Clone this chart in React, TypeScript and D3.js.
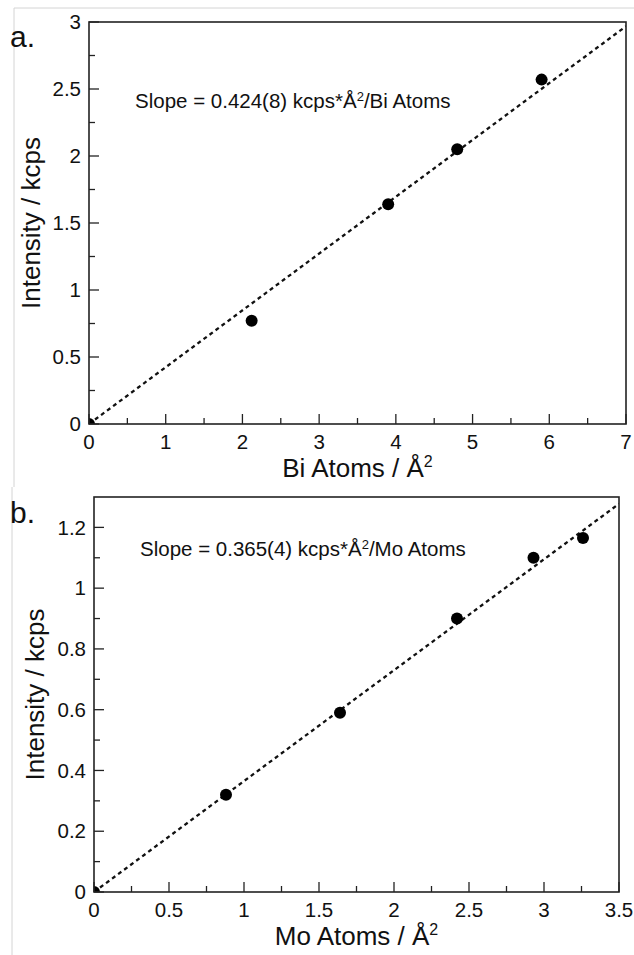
import React from "react";
import * as d3 from "d3";

// panel a: Bi
const biAtoms = [0, 2.12, 3.9, 4.8, 5.9];
const biIntensity = [0, 0.77, 1.64, 2.05, 2.57];
const biSlope = 0.424;
const biXTicks = [0, 1, 2, 3, 4, 5, 6, 7];
const biYTicks = [0, 0.5, 1, 1.5, 2, 2.5, 3];

// panel b: Mo
const moAtoms = [0, 0.88, 1.64, 2.42, 2.93, 3.26];
const moIntensity = [0, 0.32, 0.59, 0.9, 1.1, 1.165];
const moSlope = 0.365;
const moXTicks = [0, 0.5, 1, 1.5, 2, 2.5, 3, 3.5];
const moYTicks = [0, 0.2, 0.4, 0.6, 0.8, 1, 1.2];

const FONT = "'Liberation Sans', Arial, Helvetica, sans-serif";
const INK = "#222";

type PanelProps = {
  id: string;
  letter: string;
  left: number;
  right: number;
  top: number;
  bottom: number;
  xs: number[];
  ys: number[];
  slope: number;
  xMax: number;
  yMax: number;
  xTicks: number[];
  yTicks: number[];
  slopeText: string;
  atom: string;
  xLabel: string;
  letterY: number;
  yLabelX: number;
  slopeX: number;
  slopeY: number;
};

function Panel(p: PanelProps) {
  const x = d3.scaleLinear().domain([0, p.xMax]).range([p.left, p.right]);
  const y = d3.scaleLinear().domain([0, p.yMax]).range([p.bottom, p.top]);
  const xStep = p.xTicks[1] - p.xTicks[0];
  const yStep = p.yTicks[1] - p.yTicks[0];
  const xMinor = d3.range(xStep / 2, p.xMax, xStep);
  const yMinor = d3.range(yStep / 2, p.yMax, yStep);
  const line = d3.line<number>().x((d) => x(d)).y((d) => y(d * p.slope));
  const fmt = (v: number) => String(+v.toFixed(2));
  const clipId = `clip-${p.id}`;
  return (
    <g>
      <defs>
        <clipPath id={clipId}>
          <rect x={p.left} y={p.top} width={p.right - p.left} height={p.bottom - p.top} />
        </clipPath>
      </defs>
      <text x={10} y={p.letterY} fontSize={30} fontFamily={FONT} fill="#111">{p.letter}</text>

      {/* ticks, inward */}
      {p.xTicks.map((t) => (
        <line key={`xt${t}`} x1={x(t)} x2={x(t)} y1={p.bottom} y2={p.bottom - 10} stroke={INK} strokeWidth={1.3} />
      ))}
      {xMinor.map((t) => (
        <line key={`xm${t}`} x1={x(t)} x2={x(t)} y1={p.bottom} y2={p.bottom - 6} stroke={INK} strokeWidth={1.3} />
      ))}
      {p.yTicks.map((t) => (
        <line key={`yt${t}`} x1={p.left} x2={p.left + 10} y1={y(t)} y2={y(t)} stroke={INK} strokeWidth={1.3} />
      ))}
      {yMinor.map((t) => (
        <line key={`ym${t}`} x1={p.left} x2={p.left + 6} y1={y(t)} y2={y(t)} stroke={INK} strokeWidth={1.3} />
      ))}

      {p.xTicks.map((t) => (
        <text key={`xl${t}`} x={x(t)} y={p.bottom + 25} textAnchor="middle" fontSize={20.5} fontFamily={FONT} fill="#111">{fmt(t)}</text>
      ))}
      {p.yTicks.map((t) => (
        <text key={`yl${t}`} x={p.left - 8} y={y(t)} dy="0.35em" textAnchor="end" fontSize={20.5} fontFamily={FONT} fill="#111">{fmt(t)}</text>
      ))}

      {/* fit line and points */}
      <path d={line([0, p.xMax]) || ""} fill="none" stroke="#111" strokeWidth={2.3} strokeDasharray="4 3.5" clipPath={`url(#${clipId})`} />
      <g clipPath={`url(#${clipId})`}>
        {p.xs.map((v, i) => (
          <circle key={i} cx={x(v)} cy={y(p.ys[i])} r={6} fill="#000" />
        ))}
      </g>

      <rect x={p.left} y={p.top} width={p.right - p.left} height={p.bottom - p.top} fill="none" stroke={INK} strokeWidth={1.6} />

      <text x={p.slopeX} y={p.slopeY} fontSize={20.5} fontFamily={FONT} fill="#111">
        {p.slopeText} kcps*Å<tspan dy={-7} fontSize={13}>2</tspan><tspan dy={7}>/{p.atom} Atoms</tspan>
      </text>

      <text x={(p.left + p.right) / 2} y={p.bottom + 53} textAnchor="middle" fontSize={26} fontFamily={FONT} fill="#111">
        {p.xLabel} / Å<tspan dy={-10} fontSize={16}>2</tspan>
      </text>
      <text transform={`translate(${p.yLabelX},${(p.top + p.bottom) / 2}) rotate(-90)`} textAnchor="middle" fontSize={26} fontFamily={FONT} fill="#111">
        Intensity / kcps
      </text>
    </g>
  );
}

export default function App() {
  return (
    <div style={{ position: "absolute", left: 0, top: 0 }}>
      <svg width={634} height={955} style={{ display: "block", background: "#fff" }}>
        <line x1={14} x2={634} y1={8} y2={8} stroke="#d4d4d4" strokeWidth={1} />
        <line x1={14} x2={14} y1={8} y2={487} stroke="#d4d4d4" strokeWidth={1} />
        <line x1={12} x2={12} y1={487} y2={955} stroke="#d4d4d4" strokeWidth={1} />
        <Panel
          id="a" letter="a." letterY={47}
          left={89} right={626} top={22} bottom={424}
          xs={biAtoms} ys={biIntensity} slope={biSlope}
          xMax={7} yMax={3} xTicks={biXTicks} yTicks={biYTicks}
          slopeText="Slope = 0.424(8)" atom="Bi" xLabel="Bi Atoms"
          yLabelX={40} slopeX={135} slopeY={108}
        />
        <Panel
          id="b" letter="b." letterY={523}
          left={94} right={619} top={497} bottom={892}
          xs={moAtoms} ys={moIntensity} slope={moSlope}
          xMax={3.5} yMax={1.3} xTicks={moXTicks} yTicks={moYTicks}
          slopeText="Slope = 0.365(4)" atom="Mo" xLabel="Mo Atoms"
          yLabelX={44} slopeX={140} slopeY={556}
        />
      </svg>
    </div>
  );
}
